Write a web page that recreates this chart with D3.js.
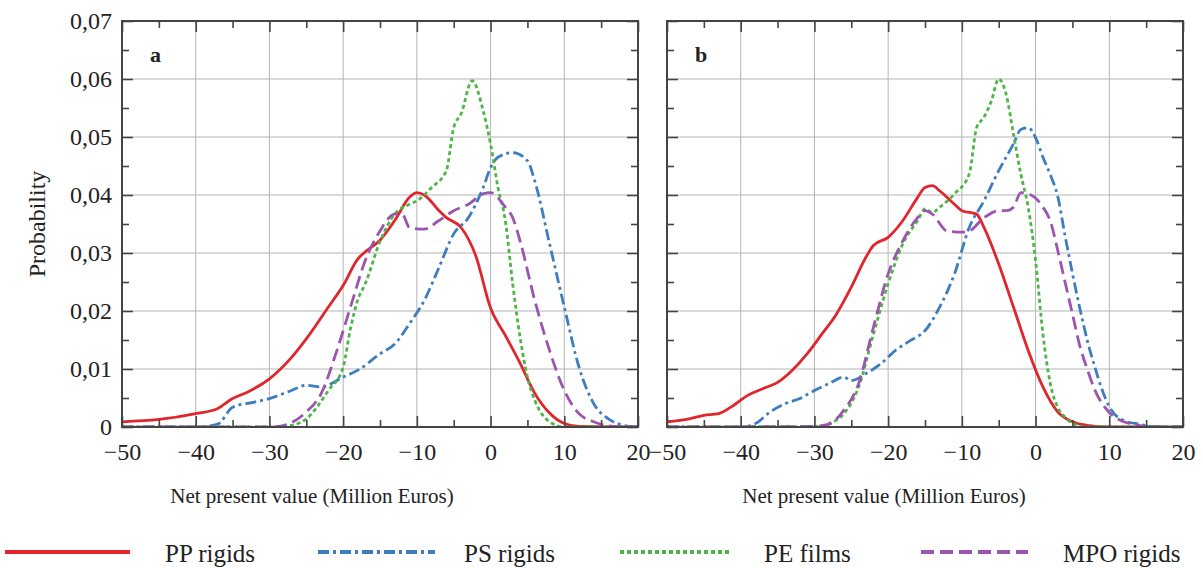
<!DOCTYPE html>
<html>
<head>
<meta charset="utf-8">
<script src="https://cdn.jsdelivr.net/npm/d3@7"></script>
<style>
  body { margin: 0; background: #fff; }
  text { font-family: "Liberation Serif", "Times New Roman", serif; fill: #222; }
</style>
</head>
<body>
<script>
var w = 1203, h = 568;

// tick values
var xMajor = [-50, -40, -30, -20, -10, 0, 10, 20];
var xMinor = [-45, -35, -25, -15, -5, 5, 15];
var yMajor = [0, 0.01, 0.02, 0.03, 0.04, 0.05, 0.06, 0.07];
var yMinor = [0.005, 0.015, 0.025, 0.035, 0.045, 0.055, 0.065];
var yLabels = ["0", "0,01", "0,02", "0,03", "0,04", "0,05", "0,06", "0,07"];

var seriesNames = ["PP rigids", "PS rigids", "PE films", "MPO rigids"];
var panelNames = ["a", "b"];

// panel a  [NPV, probability]
var ppA = [[-50,0.0009],[-45,0.0013],[-40,0.0023],[-37,0.0032],[-35,0.0049],[-33,0.006],[-30,0.0083],[-27,0.012],[-25,0.0152],[-22,0.0207],[-20,0.0244],[-18,0.029],[-17,0.0302],[-15,0.0322],[-13,0.0356],[-11,0.0396],[-10,0.0404],[-9,0.0400],[-7,0.0373],[-6,0.0361],[-4,0.0344],[-2,0.0295],[0,0.0205],[2,0.0158],[4,0.011],[6,0.0058],[8,0.0024],[10,0.0006],[12,0.0001],[20,0]];
var psA = [[-50,0],[-40,0],[-37,0.0005],[-35,0.0034],[-32,0.0043],[-30,0.0049],[-27,0.0063],[-25,0.0072],[-23,0.0069],[-20,0.0086],[-18,0.0098],[-15,0.0126],[-13,0.0143],[-11,0.0178],[-9,0.0218],[-7,0.0275],[-5,0.0333],[-3,0.0361],[-1,0.0413],[0,0.0447],[1,0.0465],[3,0.0473],[5,0.0459],[6,0.0424],[8,0.0316],[10,0.0207],[12,0.0103],[14,0.004],[16,0.0014],[18,0.0003],[20,0]];
var peA = [[-50,0],[-30,0],[-27,0.0003],[-25,0.0014],[-22,0.0063],[-20,0.0103],[-19,0.017],[-18,0.022],[-17,0.0247],[-15,0.032],[-13,0.0367],[-11,0.0384],[-10,0.039],[-8,0.0413],[-6,0.0442],[-5,0.0516],[-4,0.054],[-2.5,0.0597],[-1,0.0545],[0,0.0488],[1,0.0413],[2,0.0356],[3,0.0247],[4,0.0155],[5,0.0086],[6,0.0046],[8,0.0009],[10,0],[20,0]];
var mpoA = [[-50,0],[-30,0],[-28,0.0003],[-25,0.0026],[-23,0.0057],[-21,0.0126],[-19,0.0207],[-17,0.0287],[-15,0.0338],[-13,0.0367],[-12,0.0367],[-11,0.0344],[-9,0.0341],[-7,0.0356],[-5,0.0373],[-3,0.0384],[-1,0.0402],[0,0.0404],[2,0.0379],[3,0.0361],[4,0.0321],[6,0.0218],[8,0.0132],[10,0.0063],[12,0.0023],[14,0.0009],[16,0.0002],[18,0],[20,0]];

// panel b
var ppB = [[-50,0.0009],[-47,0.0014],[-45,0.002],[-43,0.0023],[-41,0.0037],[-39,0.0055],[-37,0.0066],[-35,0.0077],[-33,0.0098],[-31,0.0126],[-29,0.016],[-27,0.0195],[-25,0.0241],[-23,0.0293],[-22,0.0313],[-20,0.0327],[-18,0.0356],[-16,0.0396],[-15,0.0413],[-14,0.0416],[-13,0.0407],[-11,0.0384],[-10,0.0373],[-8,0.0367],[-7,0.0344],[-5,0.0281],[-3,0.0207],[-1,0.0132],[1,0.0069],[3,0.0026],[5,0.0009],[7,0.0003],[10,0],[20,0]];
var psB = [[-50,0],[-40,0],[-38,0.0006],[-36,0.0026],[-34,0.004],[-32,0.0049],[-30,0.0063],[-28,0.0075],[-26,0.0086],[-25,0.008],[-23,0.0092],[-21,0.0109],[-19,0.0132],[-17,0.0149],[-15,0.0166],[-13,0.0207],[-11,0.0264],[-9,0.0344],[-7,0.039],[-5,0.0442],[-3,0.0488],[-2,0.0513],[-1,0.0516],[0,0.0499],[1,0.0465],[2,0.0435],[3,0.0398],[4,0.033],[5,0.0265],[6,0.0205],[7,0.015],[8,0.0105],[9,0.0065],[10,0.0035],[12,0.0011],[14,0.0005],[16,0.0001],[20,0]];
var peB = [[-50,0],[-30,0.0001],[-28,0.0006],[-26,0.0023],[-24,0.0069],[-22,0.016],[-20,0.0247],[-18,0.0316],[-16,0.0356],[-15,0.0376],[-14,0.037],[-13,0.0379],[-11,0.0402],[-9,0.0436],[-8,0.0516],[-7,0.0534],[-6,0.0562],[-5,0.06],[-4,0.0574],[-3,0.0505],[-2,0.0436],[-1,0.0379],[0,0.0287],[1,0.016],[2,0.0075],[3,0.0034],[4,0.0017],[5,0.0006],[7,0],[20,0]];
var mpoB = [[-50,0],[-30,0.0001],[-28,0.0005],[-26,0.0029],[-24,0.0075],[-22,0.0172],[-20,0.0264],[-18,0.0321],[-16,0.0361],[-15,0.0373],[-14,0.0367],[-12,0.0338],[-10,0.0336],[-9,0.0338],[-7,0.0361],[-5,0.0373],[-4,0.0373],[-3,0.0379],[-2,0.0404],[-1,0.0402],[1,0.0379],[2,0.0355],[3,0.0305],[4,0.025],[5,0.0195],[6,0.014],[7,0.01],[8,0.0065],[10,0.0025],[12,0.0009],[14,0.0003],[16,0],[20,0]];

var panelData = [[ppA, psA, peA, mpoA], [ppB, psB, peB, mpoB]];

var colors = ["#e0262c", "#3d7ebf", "#4fb548", "#9b55ad"];
var dashes = ["none", "11,4,3,4", "4,3", "13,6"];

var svg = d3.select("body").append("svg")
    .attr("width", w)
    .attr("height", h);

var plotTop = 21, plotBottom = 427;
var panelLeft = [122, 667], panelW = 516;
var titleX = [312, 884];

var yScale = d3.scaleLinear().domain([0, 0.07]).range([plotBottom, plotTop]);

panelLeft.forEach(function(left, p) {
    var xScale = d3.scaleLinear().domain([-50, 20]).range([left, left + panelW]);
    var g = svg.append("g");

    // grid
    g.selectAll(".gx").data(xMajor.slice(1, -1)).enter().append("line")
        .attr("x1", d => xScale(d)).attr("x2", d => xScale(d))
        .attr("y1", plotTop).attr("y2", plotBottom)
        .style("stroke", "#b5b5b5").style("stroke-width", 1);
    g.selectAll(".gy").data(yMajor.slice(1, -1)).enter().append("line")
        .attr("x1", left).attr("x2", left + panelW)
        .attr("y1", d => yScale(d)).attr("y2", d => yScale(d))
        .style("stroke", "#b5b5b5").style("stroke-width", 1);

    // curves
    var clipId = "clip" + p;
    svg.append("clipPath").attr("id", clipId).append("rect")
        .attr("x", left).attr("y", plotTop).attr("width", panelW).attr("height", plotBottom - plotTop);

    var line = d3.line()
        .x(d => xScale(d[0]))
        .y(d => yScale(d[1]))
        .curve(d3.curveMonotoneX);

    panelData[p].forEach(function(series, i) {
        g.append("path")
            .attr("d", line(series))
            .attr("clip-path", "url(#" + clipId + ")")
            .style("fill", "none")
            .style("stroke", colors[i])
            .style("stroke-width", 2.8)
            .style("stroke-dasharray", dashes[i]);
    });

    // ticks, all pointing inward
    var axes = [
        [d3.axisBottom(xScale), "translate(0," + plotBottom + ")", true],
        [d3.axisTop(xScale), "translate(0," + plotTop + ")", false],
        [d3.axisLeft(yScale), "translate(" + left + ",0)", p == 0],
        [d3.axisRight(yScale), "translate(" + (left + panelW) + ",0)", false]
    ];
    axes.forEach(function(a, k) {
        var isX = k < 2;
        var major = isX ? xMajor : yMajor;
        var minor = isX ? xMinor : yMinor;
        var ax = g.append("g").attr("transform", a[1]);
        ax.call(a[0].tickValues(minor).tickSize(-7).tickFormat(""));
        ax.select(".domain").remove();
        var axM = g.append("g").attr("transform", a[1]);
        axM.call(a[0].tickValues(major).tickSize(-11).tickPadding(isX ? 16 : 10)
            .tickFormat(a[2] ? (isX ? d3.format("") : (d, i) => yLabels[i]) : ""));
        axM.select(".domain").remove();
        ax.selectAll("line").style("stroke", "#444").style("stroke-width", 1.6);
        axM.selectAll("line").style("stroke", "#444").style("stroke-width", 1.6);
        axM.selectAll("text")
            .style("font-family", "'Liberation Serif', 'Times New Roman', serif")
            .style("font-size", "24px")
            .style("fill", "#222");
    });

    // frame
    g.append("rect")
        .attr("x", left).attr("y", plotTop)
        .attr("width", panelW).attr("height", plotBottom - plotTop)
        .style("fill", "none").style("stroke", "#444").style("stroke-width", 2);

    g.append("text")
        .text(panelNames[p])
        .attr("x", left + 28).attr("y", 62)
        .style("font-weight", "bold")
        .style("font-size", "22px");

    g.append("text")
        .text("Net present value (Million Euros)")
        .attr("x", titleX[p]).attr("y", 503)
        .attr("text-anchor", "middle")
        .style("font-size", "21px");
});

svg.append("text")
    .text("Probability")
    .attr("transform", "translate(45," + ((plotTop + plotBottom) / 2) + ") rotate(-90)")
    .attr("text-anchor", "middle")
    .style("font-size", "24px");

// legend
var legendX = [5, 318, 620, 921], legendEnd = [130, 435, 730, 1028];
var legendTextX = [165, 464, 764, 1063];
seriesNames.forEach(function(name, i) {
    svg.append("line")
        .attr("x1", legendX[i]).attr("x2", legendEnd[i])
        .attr("y1", 552).attr("y2", 552)
        .style("stroke", colors[i])
        .style("stroke-width", 4)
        .style("stroke-dasharray", dashes[i]);
    svg.append("text")
        .text(name)
        .attr("x", legendTextX[i]).attr("y", 562)
        .style("font-size", "25px");
});
</script>
</body>
</html>
